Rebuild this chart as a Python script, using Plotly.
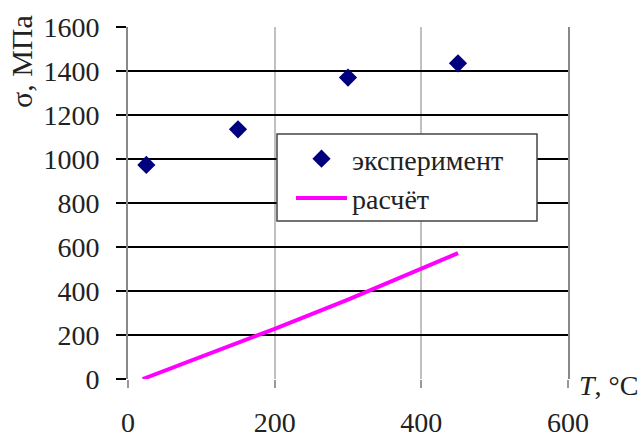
import plotly.graph_objects as go

# Experimental data
exp_T = [25, 150, 300, 450]
exp_sigma = [973, 1135, 1370, 1435]

# Calculated curve
calc_T = [20, 100, 200, 300, 400, 450]
calc_sigma = [0, 101, 228, 361, 501, 572]

x_ticks = [0, 200, 400, 600]
y_ticks = [0, 200, 400, 600, 800, 1000, 1200, 1400, 1600]

FONT = "Liberation Serif, Times New Roman, serif"
FS = 28

fig = go.Figure()
fig.add_trace(go.Scatter(
    x=exp_T, y=exp_sigma, mode="markers", name="эксперимент",
    marker=dict(symbol="diamond", size=14, color="#00007F"),
    legendgroup="a",
))
fig.add_trace(go.Scatter(
    x=calc_T, y=calc_sigma, mode="lines", name="расчёт",
    line=dict(color="#FF00FF", width=4),
    legendgroup="b",
))

fig.update_layout(
    width=642, height=438,
    margin=dict(l=128, r=74, t=27, b=59),
    paper_bgcolor="white", plot_bgcolor="white",
    font=dict(family=FONT, size=FS, color="#222"),
    showlegend=True,
    legend=dict(
        x=(291 - 128) / 440, y=1 - (134 - 27) / 352,
        xanchor="left", yanchor="top",
        bgcolor="rgba(0,0,0,0)", borderwidth=0,
        font=dict(family=FONT, size=28, color="#222"),
        itemwidth=51, tracegroupgap=0,
    ),
    xaxis=dict(
        range=[0, 600], tickvals=x_ticks, automargin=False,
        showgrid=True, gridcolor="#C0C0C0", gridwidth=2,
        zeroline=False, showline=False,
        ticks="outside", ticklen=8, tickcolor="#999", tickwidth=2,
        ticklabelstandoff=10,
        tickfont=dict(family=FONT, size=FS, color="#222"),
    ),
    yaxis=dict(
        range=[0, 1600], tickvals=y_ticks, automargin=False,
        showgrid=True, gridcolor="#000", gridwidth=1.5,
        zeroline=False, showline=True, linecolor="#888", linewidth=2,
        mirror=True,
        ticks="outside", ticklen=10, tickcolor="#000", tickwidth=1.5,
        ticklabelstandoff=11,
        tickfont=dict(family=FONT, size=FS, color="#222"),
    ),
    shapes=[
        dict(type="rect", xref="paper", yref="paper",
             x0=(277 - 128) / 440, x1=(537 - 128) / 440,
             y0=1 - (221 - 27) / 352, y1=1 - (134 - 27) / 352,
             line=dict(color="#444", width=1.5), fillcolor="white",
             layer="above"),
    ],
    annotations=[
        dict(text="σ, МПа", xref="paper", yref="paper",
             x=-(128 - 22) / 440, y=1 - (62 - 27) / 352,
             xanchor="center", yanchor="middle", textangle=-90,
             showarrow=False, font=dict(family=FONT, size=30, color="#222")),
        dict(text="<i>T</i>, °C", xref="paper", yref="paper",
             x=(577 - 128) / 440, y=1 - (386 - 27) / 352,
             xanchor="left", yanchor="middle",
             showarrow=False, font=dict(family=FONT, size=FS, color="#222")),
    ],
)

fig.write_html("out.html", config={"displayModeBar": False},
               post_script="document.body.style.margin='0';")
